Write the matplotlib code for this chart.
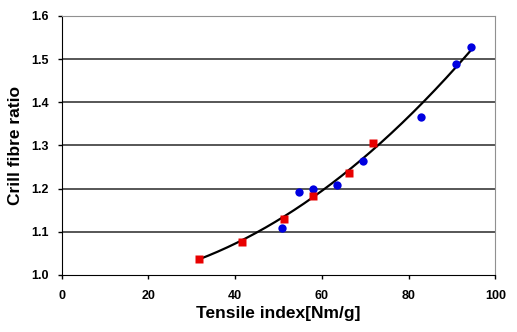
import numpy as np
import matplotlib
matplotlib.use('Agg')
from matplotlib import pyplot as plt

# red squares
red_x = [31.6, 41.6, 51.2, 58.0, 66.3, 71.8]
red_y = [1.036, 1.076, 1.129, 1.182, 1.237, 1.306]

# blue circles
blue_x = [50.8, 54.7, 58.0, 63.4, 69.4, 82.9, 90.9, 94.3]
blue_y = [1.109, 1.191, 1.200, 1.208, 1.263, 1.366, 1.488, 1.528]

x_ticks = [0, 20, 40, 60, 80, 100]
y_ticks = [1.0, 1.1, 1.2, 1.3, 1.4, 1.5, 1.6]

plt.rcParams['font.family'] = ['Liberation Sans', 'DejaVu Sans']
plt.rcParams['font.weight'] = 'bold'

fig = plt.figure(figsize=(5.17, 3.32), dpi=100)
ax = fig.add_axes([0.119, 0.172, 0.839, 0.780])

# trend line (2nd order poly fit of all points, like the spreadsheet trendline)
all_x = np.array(red_x + blue_x)
all_y = np.array(red_y + blue_y)
coef = np.polyfit(all_x, all_y, 2)
xs = np.linspace(min(all_x), max(all_x), 200)
ax.plot(xs, np.polyval(coef, xs), color='black', lw=1.6, zorder=3)

ax.plot(blue_x, blue_y, 'o', color='#0000e0', ms=6, mec='none', zorder=4)
ax.plot(red_x, red_y, 's', color='#e80000', ms=6, mec='none', zorder=4)

ax.set_xlim(0, 100)
ax.set_ylim(1.0, 1.6)
ax.set_xticks(x_ticks)
ax.set_yticks(y_ticks)
ax.set_xticklabels([str(v) for v in x_ticks])
ax.set_yticklabels(['%.1f' % v for v in y_ticks])
for y in y_ticks[1:-1]:
    ax.axhline(y, color='#3a3a3a', lw=1.2, zorder=1)

ax.spines['left'].set_color('black')
ax.spines['bottom'].set_color('black')
ax.spines['top'].set_color('#909090')
ax.spines['right'].set_color('#909090')
ax.tick_params(direction='out', length=3, width=1, labelsize=9, pad=8)
ax.tick_params(axis='y', pad=6)

ax.set_xlabel('Tensile index[Nm/g]', fontsize=12.5, fontweight='bold', labelpad=3)
ax.set_ylabel('Crill fibre ratio', fontsize=12.5, fontweight='bold', labelpad=6)

fig.savefig('out.png', dpi=100)
